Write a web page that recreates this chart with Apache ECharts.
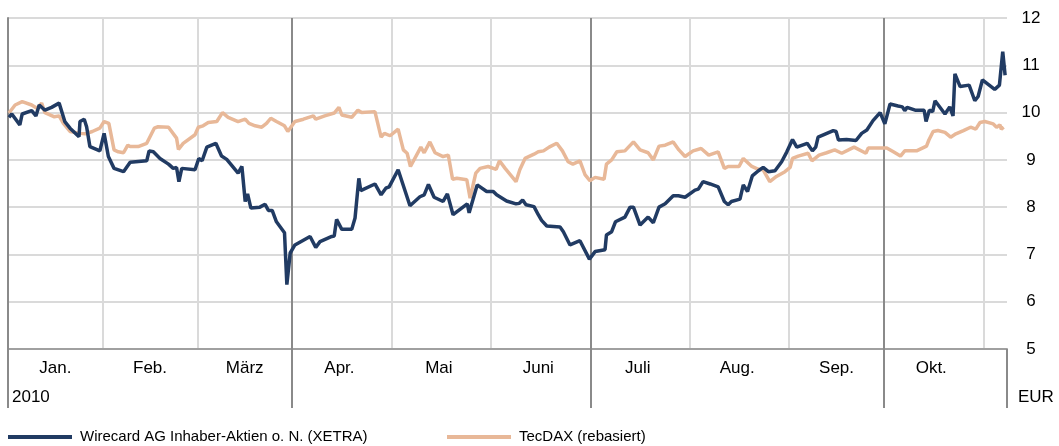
<!DOCTYPE html>
<html>
<head>
<meta charset="utf-8">
<script src="https://cdn.jsdelivr.net/npm/echarts@6/dist/echarts.min.js"></script>
<style>
html, body { margin: 0; padding: 0; background: #fff; }
#chart { width: 1059px; height: 446px; }
</style>
</head>
<body>
<div id="chart"></div>
<script>
// trading day index from 2010-01-01, month boundaries and label positions
var days = [];
for (var d = 0; d <= 211; d++) days.push(String(d));
var monthNames = ['Jan.', 'Feb.', 'März', 'Apr.', 'Mai', 'Juni', 'Juli', 'Aug.', 'Sep.', 'Okt.'];
var monthStarts = [0, 20, 40, 60, 81, 102, 123, 144, 165, 185, 206];
var quarterStarts = [0, 60, 123, 185, 211];
var monthMids = [10, 30, 50, 70, 91, 112, 133, 154, 175, 195];

// Wirecard AG (XETRA), EUR
var wcDays = [0.2, 0.8, 2.5, 3.0, 5.0, 5.9, 6.6, 7.8, 9.2, 10.8, 12.0, 13.1, 15.0, 15.2, 16.1, 16.6, 17.3, 19.4, 20.3, 21.2,
  22.4, 24.4, 25.8, 29.3, 29.8, 30.7, 32.1, 33.9, 34.9, 35.6, 36.1, 36.7, 39.5, 40.3, 41.0, 42.0, 43.9, 45.1, 46.2, 48.6,
  49.4, 50.1, 50.6, 51.3, 53.2, 54.3, 55.0, 55.8, 56.7, 58.4, 58.9, 59.6, 60.6, 63.8, 65.0, 65.9, 68.4, 68.9, 69.4, 70.5,
  72.6, 73.3, 74.1, 74.5, 77.5, 78.8, 79.8, 80.5, 82.4, 84.9, 87.0, 87.9, 88.8, 90.0, 91.9, 92.8, 94.0, 97.0, 97.4, 99.1,
  101.1, 102.5, 103.2, 105.3, 107.3, 108.0, 108.7, 109.4, 111.1, 112.0, 112.7, 113.8, 116.6, 117.3, 118.7, 120.8, 122.8, 124.0, 126.1, 126.4,
  127.5, 128.3, 130.3, 131.4, 132.1, 133.5, 135.2, 136.3, 137.5, 138.8, 140.5, 141.6, 143.0, 145.1, 145.8, 146.8, 148.3, 150.0, 151.3, 152.1,
  152.8, 154.6, 155.3, 156.2, 157.2, 158.5, 159.5, 160.6, 162.0, 163.4, 164.5, 165.7, 166.6, 168.8, 169.9, 170.6, 171.1, 174.3, 174.9, 175.4,
  177.1, 179.1, 180.3, 181.4, 182.7, 184.2, 184.5, 185.2, 186.3, 188.0, 188.9, 189.4, 189.9, 191.6, 193.5, 193.9, 194.6, 195.3, 195.8, 197.9,
  198.9, 199.6, 200.0, 201.1, 203.0, 204.2, 204.9, 205.8, 208.4, 209.4, 210.1, 210.6];
var wcValues = [9.90, 9.97, 9.74, 9.97, 10.04, 9.93, 10.16, 10.05, 10.11, 10.20, 9.81, 9.67, 9.49, 9.81, 9.86, 9.70, 9.28, 9.19, 9.56, 9.07,
  8.82, 8.75, 8.95, 8.98, 9.19, 9.17, 9.03, 8.91, 8.82, 8.84, 8.54, 8.82, 8.79, 9.03, 8.98, 9.27, 9.35, 9.08, 9.01, 8.72,
  8.86, 8.12, 8.28, 7.98, 8.00, 8.06, 7.93, 7.93, 7.69, 7.46, 6.36, 7.03, 7.20, 7.38, 7.15, 7.27, 7.38, 7.39, 7.74, 7.53,
  7.53, 7.77, 8.61, 8.35, 8.49, 8.26, 8.40, 8.43, 8.79, 8.03, 8.22, 8.26, 8.48, 8.21, 8.12, 8.28, 7.84, 8.07, 7.88, 8.47,
  8.33, 8.33, 8.26, 8.13, 8.07, 8.08, 8.15, 8.05, 8.01, 7.84, 7.72, 7.60, 7.58, 7.48, 7.20, 7.29, 6.90, 7.06, 7.10, 7.41,
  7.48, 7.69, 7.79, 8.00, 8.00, 7.62, 7.79, 7.67, 8.00, 8.07, 8.24, 8.24, 8.21, 8.36, 8.38, 8.54, 8.49, 8.43, 8.12, 8.05,
  8.12, 8.17, 8.47, 8.33, 8.66, 8.77, 8.84, 8.75, 8.77, 8.96, 9.17, 9.43, 9.27, 9.35, 9.19, 9.27, 9.48, 9.62, 9.60, 9.42,
  9.43, 9.41, 9.56, 9.63, 9.83, 10.00, 10.02, 9.76, 10.18, 10.14, 10.12, 10.04, 10.11, 10.05, 10.05, 9.81, 10.05, 10.02, 10.25, 9.97,
  10.12, 9.93, 10.82, 10.55, 10.58, 10.25, 10.34, 10.69, 10.49, 10.58, 11.29, 10.79];

// TecDAX (rebasiert)
var tdDays = [0.2, 1.5, 3.0, 5.0, 6.1, 7.1, 7.8, 9.8, 10.8, 11.7, 13.1, 15.2, 16.3, 17.8, 19.4, 20.3, 21.3, 22.4, 23.3, 24.4,
  25.3, 25.8, 27.5, 29.3, 30.9, 31.7, 33.9, 35.6, 36.0, 37.0, 39.5, 40.2, 41.2, 42.3, 44.1, 45.3, 46.5, 48.6, 50.1, 50.9,
  52.2, 53.6, 54.6, 55.5, 56.7, 58.4, 59.1, 60.6, 62.4, 64.5, 65.0, 66.9, 68.9, 69.9, 70.5, 72.6, 73.9, 74.7, 77.5, 78.8,
  79.5, 80.7, 82.4, 83.5, 84.3, 85.0, 87.2, 87.9, 89.1, 90.2, 91.9, 93.0, 93.9, 94.8, 96.9, 97.6, 98.8, 99.7, 101.4, 103.1,
  103.8, 105.0, 107.3, 108.1, 109.2, 111.1, 112.0, 113.1, 114.3, 115.9, 117.1, 118.3, 119.3, 120.8, 121.9, 122.9, 124.0, 125.9, 126.4, 127.5,
  128.6, 130.3, 132.1, 133.5, 135.2, 136.3, 137.5, 138.8, 140.5, 141.7, 143.0, 144.7, 146.4, 148.0, 150.0, 151.3, 152.1, 154.4, 155.3, 157.1,
  158.5, 159.5, 160.9, 162.3, 164.1, 165.2, 165.7, 166.9, 169.0, 169.8, 171.3, 172.9, 174.6, 176.1, 178.7, 181.2, 181.7, 185.6, 187.0, 188.5,
  189.4, 191.9, 194.0, 194.5, 195.4, 196.4, 197.9, 199.1, 200.2, 201.8, 203.3, 204.4, 205.3, 206.3, 208.1, 208.8, 209.5, 209.8, 210.3];
var tdValues = [9.99, 10.16, 10.23, 10.16, 10.09, 10.20, 10.00, 9.91, 9.93, 9.77, 9.60, 9.56, 9.55, 9.60, 9.67, 9.81, 9.77, 9.21, 9.17, 9.15,
  9.31, 9.28, 9.28, 9.35, 9.67, 9.70, 9.69, 9.46, 9.22, 9.35, 9.53, 9.69, 9.72, 9.79, 9.81, 10.00, 9.90, 9.81, 9.86, 9.77,
  9.72, 9.69, 9.77, 9.88, 9.81, 9.72, 9.60, 9.81, 9.86, 9.93, 9.86, 9.93, 9.99, 10.11, 9.95, 9.90, 10.05, 10.00, 10.02, 9.48,
  9.56, 9.51, 9.65, 9.21, 9.14, 8.86, 9.27, 9.15, 9.38, 9.15, 9.07, 9.10, 8.59, 8.61, 8.58, 8.19, 8.72, 8.82, 8.86, 8.80,
  8.98, 8.82, 8.54, 8.79, 9.03, 9.12, 9.17, 9.19, 9.27, 9.35, 9.19, 8.96, 8.91, 8.98, 8.68, 8.56, 8.63, 8.59, 8.91, 9.00,
  9.17, 9.19, 9.38, 9.21, 9.15, 9.00, 9.29, 9.31, 9.38, 9.21, 9.07, 9.19, 9.24, 9.10, 9.17, 8.82, 8.86, 8.86, 9.03, 8.86,
  8.80, 8.79, 8.54, 8.65, 8.75, 8.84, 9.03, 9.08, 9.14, 8.98, 9.10, 9.15, 9.21, 9.14, 9.27, 9.14, 9.25, 9.25, 9.17, 9.08,
  9.19, 9.19, 9.29, 9.42, 9.60, 9.62, 9.58, 9.48, 9.55, 9.62, 9.69, 9.65, 9.79, 9.81, 9.76, 9.69, 9.74, 9.65, 9.69];

function pairs(xs, ys) {
  var out = [];
  for (var i = 0; i < xs.length; i++) out.push([xs[i], ys[i]]);
  return out;
}

var FONT = 'Liberation Sans, Arial, sans-serif';
var NAVY = '#213b63';
var TAN = '#e8b898';

var myChart = echarts.init(document.getElementById('chart'), null, { renderer: 'canvas' });
var option = {
  animation: false,
  backgroundColor: '#fff',
  textStyle: { fontFamily: FONT },
  grid: { left: 8, right: 52, top: 18, bottom: 97 },
  legend: [
    {
      data: ['Wirecard AG Inhaber-Aktien o. N. (XETRA)'],
      left: 8, top: 429, padding: 0, icon: 'rect', itemWidth: 64, itemHeight: 4,
      textStyle: { fontSize: 15, lineHeight: 16, color: '#000', fontFamily: FONT, padding: [0, 0, 0, 3] }
    },
    {
      data: ['TecDAX (rebasiert)'],
      left: 447, top: 429, padding: 0, icon: 'rect', itemWidth: 64, itemHeight: 4,
      textStyle: { fontSize: 15, lineHeight: 16, color: '#000', fontFamily: FONT, padding: [0, 0, 0, 3] }
    }
  ],
  xAxis: [
    {
      // month grid (light), quarter ticks below the axis, month labels
      type: 'category',
      data: days,
      boundaryGap: false,
      axisLine: { show: true, lineStyle: { color: '#a0a0a0', width: 2 } },
      axisTick: {
        show: true, length: 59,
        interval: function (i) { return quarterStarts.indexOf(i) >= 0; },
        lineStyle: { color: '#8a8a8a', width: 2 }
      },
      axisLabel: {
        interval: function (i) { return monthMids.indexOf(i) >= 0; },
        formatter: function (v, i) { return monthNames[monthMids.indexOf(i)] || ''; },
        margin: 11, fontSize: 17, color: '#000', fontFamily: FONT
      },
      splitLine: {
        show: true,
        interval: function (i) { return monthStarts.indexOf(i) >= 0 && quarterStarts.indexOf(i) < 0; },
        lineStyle: { color: '#dadada', width: 2 }
      }
    },
    {
      // quarter lines (dark)
      type: 'category',
      data: days,
      boundaryGap: false,
      axisLine: { show: false },
      axisTick: { show: false },
      axisLabel: { show: false },
      splitLine: {
        show: true,
        interval: function (i) { return i === 60 || i === 123 || i === 185 || i === 0; },
        lineStyle: { color: '#8a8a8a', width: 2 }
      },
      z: 1
    },
    {
      type: 'value',
      min: 0, max: 211,
      show: false
    }
  ],
  yAxis: {
    type: 'value',
    position: 'right',
    min: 5, max: 12, interval: 1,
    axisLine: { show: true, lineStyle: { color: '#8a8a8a', width: 2 } },
    axisTick: { show: false },
    axisLabel: { margin: 24, align: 'center', fontSize: 17, color: '#000', fontFamily: FONT },
    splitLine: { show: true, lineStyle: { color: '#dadada', width: 2 } }
  },
  graphic: [
    { type: 'text', left: 12, top: 389, style: { text: '2010', font: '17px ' + FONT, fill: '#000' } },
    { type: 'text', left: 1018, top: 389, style: { text: 'EUR', font: '17px ' + FONT, fill: '#000' } }
  ],
  series: [
    {
      name: 'TecDAX (rebasiert)',
      type: 'line',
      xAxisIndex: 2,
      data: pairs(tdDays, tdValues),
      showSymbol: false, symbol: 'none',
      color: TAN,
      lineStyle: { color: TAN, width: 3.5 },
      z: 3
    },
    {
      name: 'Wirecard AG Inhaber-Aktien o. N. (XETRA)',
      type: 'line',
      xAxisIndex: 2,
      data: pairs(wcDays, wcValues),
      showSymbol: false, symbol: 'none',
      color: NAVY,
      lineStyle: { color: NAVY, width: 3.5 },
      z: 4
    }
  ]
};
myChart.setOption(option);
</script>
</body>
</html>
